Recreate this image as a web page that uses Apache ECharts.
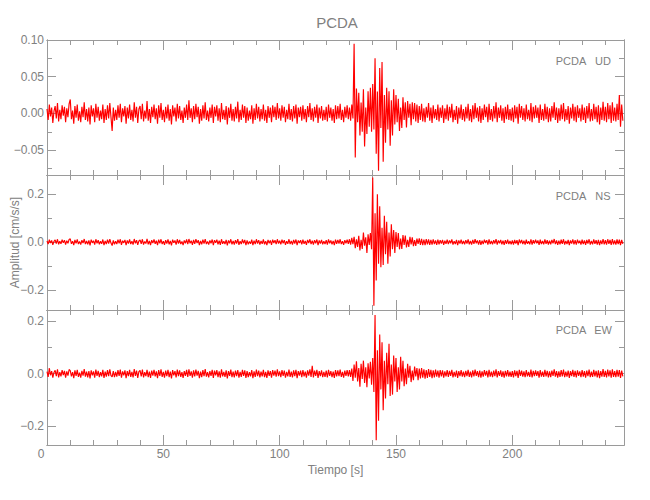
<!DOCTYPE html>
<html><head><meta charset="utf-8">
<script src="https://cdn.jsdelivr.net/npm/echarts@6/dist/echarts.min.js"></script>
<style>html,body{margin:0;padding:0;background:#fff}#c{width:650px;height:500px}</style>
</head><body><div id="c"></div>
<script>
// ---- data ----
const stationName = 'PCDA';
const componentNames = ['UD', 'NS', 'EW'];
const startTime = 0;          // s
const sampleInterval = 0.5;   // s
const valueUnit = 0.001;      // arrays below are in 1e-3 cm/s/s

const udValues = [
6,-9,12,-4,8,-13,3,10,-7,14,-11,5,-8,11,-3,9,-12,7,-5,13,
19,-8,4,-14,10,-6,12,-10,3,-12,9,-5,15,-9,6,-11,8,-15,11,-4,
7,-12,13,-6,9,-10,4,-8,12,-13,6,-9,11,-7,14,-5,-24,8,-10,5,
-9,11,-6,13,-12,7,-4,10,-14,8,-7,12,-9,5,-11,15,-6,9,-13,6,
10,-8,13,-11,4,-7,17,-10,6,-13,9,-5,12,-8,7,-14,11,-6,14,-9,
5,-12,9,-7,12,-10,6,-15,11,-4,8,-11,13,-7,10,-9,4,-13,8,-6,
12,-9,18,-6,7,-12,10,-8,13,-5,9,-14,6,-10,11,-7,15,-9,4,-11,
8,-6,12,-13,9,-4,11,-10,7,-12,14,-8,5,-9,10,-15,8,-6,13,-10,
6,-11,9,-7,16,-12,5,-9,12,-6,10,-13,8,-10,4,-8,11,-14,7,-9,
13,-7,9,-11,6,-8,12,-10,5,-13,10,-6,8,-12,11,-5,9,-9,14,-7,
7,-10,11,-6,9,-12,5,-8,13,-9,6,-11,10,-7,12,-14,8,-5,9,-10,
11,-8,6,-12,10,-5,14,-9,7,-11,9,-6,12,-13,8,-7,10,-10,5,-9,
9,-11,12,-6,8,-10,6,-13,11,-8,10,-7,13,-9,5,-12,9,-6,11,-8,
8,-10,12,-7,95,-60,34,-12,28,-30,15,-25,33,-45,8,-28,30,-18,35,-25,
40,-22,75,-55,30,-78,62,-20,70,-66,25,-40,35,-22,30,-44,18,-30,33,-15,
25,-12,20,-24,8,-20,22,-9,15,-19,17,-6,13,-16,15,-8,14,-11,12,-13,
10,-9,13,-11,7,-12,9,-6,14,-10,8,-13,11,-7,6,-9,12,-11,8,-6,
11,-13,7,-8,12,-10,9,-6,13,-12,5,-9,10,-14,8,-7,12,-9,6,-11,
9,-7,13,-10,6,-12,11,-8,14,-6,8,-11,10,-13,7,-9,12,-5,9,-12,
13,-9,6,-11,10,-7,15,-12,8,-6,11,-10,7,-13,9,-8,12,-9,6,-10,
8,-12,11,-7,9,-14,13,-6,10,-9,7,-11,12,-8,5,-10,14,-12,9,-7,
11,-6,8,-13,12,-9,6,-10,13,-8,9,-12,7,-11,10,-6,15,-9,8,-13,
7,-10,12,-8,14,-11,6,-9,10,-14,8,-7,13,-10,9,-12,11,-6,7,-11,
12,-9,8,-13,10,-7,14,-11,6,-10,13,-8,9,-12,11,-15,8,-9,16,-10,
9,-12,14,-8,11,-13,15,-10,8,-11,13,-9,25,-18,12,-10
];

const nsValues = [
5,-8,10,-4,7,-11,3,9,-6,12,-9,4,-7,10,-3,8,-10,6,-5,11,
14,-7,4,-12,9,-5,11,-8,3,-10,8,-4,13,-8,5,-9,7,-13,10,-3,
6,-10,12,-5,8,-9,4,-7,11,-12,5,-8,10,-6,12,-4,-14,7,-9,4,
-8,10,-5,12,-11,6,-3,9,-12,7,-6,11,-8,4,-10,13,-5,8,-11,5,
9,-7,12,-10,3,-6,14,-9,5,-12,8,-4,11,-7,6,-12,10,-5,12,-8,
4,-11,8,-6,11,-9,5,-13,10,-3,7,-10,12,-6,9,-8,3,-12,7,-5,
11,-8,13,-5,6,-11,9,-7,12,-4,8,-12,5,-9,10,-6,13,-8,3,-10,
7,-5,11,-12,8,-3,10,-9,6,-11,12,-7,4,-8,9,-13,7,-5,12,-9,
5,-10,8,-6,13,-11,4,-8,11,-5,9,-12,7,-9,3,-7,10,-12,6,-8,
12,-6,8,-10,5,-7,11,-9,4,-12,9,-5,7,-11,10,-4,8,-8,12,-6,
6,-9,10,-5,8,-11,4,-7,12,-8,5,-10,9,-6,11,-12,7,-4,8,-9,
10,-7,5,-11,9,-4,12,-8,6,-10,8,-5,11,-12,7,-6,9,-9,4,-8,
8,-10,11,-5,7,-9,5,-12,10,-7,9,-6,12,-8,4,-11,8,-5,10,-7,
12,-10,18,-8,22,-25,12,-20,26,-35,10,-28,40,-15,20,-45,33,-12,38,-30,
270,-265,120,-160,200,-90,150,-105,60,-95,110,-50,85,-90,40,-60,75,-30,50,-45,
42,-20,38,-30,15,-28,30,-12,27,-22,10,-20,22,-9,20,-17,8,-16,15,-7,
16,-12,14,-13,11,-12,13,-9,12,-11,9,-10,12,-8,7,-11,10,-9,8,-6,
9,-11,6,-7,10,-8,7,-5,11,-10,4,-8,9,-12,7,-6,10,-8,5,-9,
8,-6,11,-9,5,-10,9,-7,12,-5,7,-10,8,-11,6,-8,10,-4,8,-10,
11,-8,5,-9,8,-6,13,-10,7,-5,9,-9,6,-11,8,-7,10,-8,5,-9,
7,-10,9,-6,8,-12,11,-5,9,-8,6,-10,10,-7,4,-9,12,-10,8,-6,
10,-5,7,-11,10,-8,5,-9,11,-7,8,-10,6,-9,9,-5,13,-8,7,-11,
6,-9,10,-7,12,-10,5,-8,9,-12,7,-6,11,-9,8,-10,10,-5,6,-10,
10,-8,7,-11,9,-6,12,-10,5,-9,11,-7,8,-10,9,-12,7,-8,13,-9,
8,-10,12,-7,9,-11,13,-9,7,-10,11,-8,10,-12,9,-7
];

const ewValues = [
8,-12,22,-6,10,-15,5,13,-9,17,-14,6,-10,14,-5,11,-15,9,-7,16,
12,-10,6,-17,13,-8,15,-12,4,-15,11,-7,18,-11,8,-14,10,-18,13,-6,
9,-15,16,-8,11,-13,6,-10,15,-16,8,-11,14,-9,17,-7,-12,10,-13,7,
-11,14,-8,16,-15,9,-6,13,-17,10,-9,15,-12,7,-14,18,-8,12,-16,8,
13,-10,16,-14,6,-9,15,-13,8,-16,12,-7,15,-10,9,-17,14,-8,17,-12,
7,-15,12,-9,15,-13,8,-18,14,-6,10,-14,16,-9,13,-12,6,-16,10,-8,
15,-12,17,-8,9,-15,13,-10,16,-7,11,-17,8,-13,14,-9,18,-11,6,-14,
10,-8,15,-16,12,-6,14,-13,9,-15,17,-10,7,-12,13,-18,10,-8,16,-13,
8,-14,12,-9,14,-15,7,-12,15,-8,13,-16,10,-13,6,-10,14,-17,9,-12,
16,-9,12,-14,8,-10,15,-13,7,-16,13,-8,10,-15,14,-7,12,-11,17,-9,
9,-13,14,-8,12,-15,7,-10,16,-12,8,-14,13,-9,15,-17,10,-7,12,-13,
14,-10,8,-15,13,-7,17,-12,30,-14,12,-8,15,-16,10,-9,13,-13,7,-12,
12,-14,15,-8,10,-13,8,-16,14,-10,13,-9,16,-12,7,-15,12,-8,14,-10,
14,-12,20,-28,35,-15,48,-30,22,-50,38,-20,50,-35,25,-52,40,-18,46,-42,
60,-70,225,-255,90,-180,150,-60,120,-140,50,-95,80,-40,115,-85,35,-80,70,-30,
60,-70,25,-60,65,-30,50,-48,20,-40,38,-15,30,-32,12,-25,27,-10,22,-25,
20,-18,22,-15,17,-19,14,-16,18,-12,15,-17,13,-14,16,-11,12,-15,14,-10,
13,-15,9,-10,14,-12,11,-8,15,-14,7,-11,12,-16,10,-9,14,-11,8,-13,
11,-9,15,-12,8,-14,13,-10,16,-8,10,-13,12,-15,9,-11,14,-7,11,-14,
15,-11,8,-13,12,-9,17,-14,10,-8,13,-12,9,-15,11,-10,14,-11,8,-12,
10,-14,13,-9,11,-16,15,-8,12,-11,9,-13,14,-10,7,-12,16,-14,11,-9,
13,-8,10,-15,14,-11,8,-12,15,-10,11,-14,9,-13,12,-8,17,-11,10,-15,
9,-12,14,-10,16,-13,8,-11,12,-16,10,-9,15,-12,11,-14,13,-8,9,-13,
14,-11,10,-15,12,-9,16,-13,8,-12,15,-10,11,-14,13,-17,10,-11,18,-12,
11,-14,16,-10,13,-15,17,-12,10,-13,15,-11,14,-16,12,-10
];

const timeRange = [0, 248];
const timeTicksMajor = [0, 50, 100, 150, 200];
const timeTicksMinor = [0,10,20,30,40,50,60,70,80,90,100,110,120,130,140,150,160,170,180,190,200,210,220,230,240];
const yRanges = [[-0.0839, 0.1], [-0.283, 0.28], [-0.273, 0.244]];
const yTicksMajor = [[-0.05, 0, 0.05, 0.1], [-0.2, 0, 0.2], [-0.2, 0, 0.2]];
const yTicksMinor = [[-0.075, -0.05, -0.025, 0, 0.025, 0.05, 0.075, 0.1], [-0.2, -0.1, 0, 0.1, 0.2], [-0.2, -0.1, 0, 0.1, 0.2]];
const yDecimals = [2, 1, 1];

// ---- chart ----
const FONT = "'Liberation Sans',Arial,sans-serif";
const AXIS_COLOR = '#9a9a9a';
const TEXT_COLOR = '#808080';
const traces = [udValues, nsValues, ewValues];

function toSeriesData(arr) {
  return arr.map((v, i) => [startTime + i * sampleInterval, v * valueUnit]);
}
function fmtY(v, p) {
  return (v < -1e-9 ? '\u2212' : '') + Math.abs(v).toFixed(yDecimals[p]);
}
function xAx(p, pos, ticks, len, label) {
  const o = {
    type: 'value', gridIndex: p, position: pos, min: timeRange[0], max: timeRange[1],
    axisLine: {show: true, onZero: false, lineStyle: {color: AXIS_COLOR, width: 1}},
    axisTick: {show: true, inside: true, length: len, customValues: ticks, lineStyle: {color: AXIS_COLOR, width: 1}},
    axisLabel: {show: false},
    splitLine: {show: false}, axisPointer: {show: false}
  };
  if (label) {
    o.axisLabel = {
      show: true, customValues: timeTicksMajor, margin: 3, color: TEXT_COLOR, fontFamily: FONT, fontSize: 12,
      formatter: v => v === 0 ? '{z|0}' : String(v),
      rich: {z: {padding: [0, 12, 0, 0], color: TEXT_COLOR, fontFamily: FONT, fontSize: 12}}
    };
    o.name = 'Tiempo [s]';
    o.nameLocation = 'middle';
    o.nameGap = 19;
    o.nameMoveOverlap = false;
    o.nameTextStyle = {color: TEXT_COLOR, fontFamily: FONT, fontSize: 12};
  }
  return o;
}
function yAx(p, pos, ticks, len, label) {
  const o = {
    type: 'value', gridIndex: p, position: pos, min: yRanges[p][0], max: yRanges[p][1],
    axisLine: {show: true, onZero: false, lineStyle: {color: AXIS_COLOR, width: 1}},
    axisTick: {show: true, inside: true, length: len, customValues: ticks, lineStyle: {color: AXIS_COLOR, width: 1}},
    axisLabel: {show: false},
    splitLine: {show: false}, axisPointer: {show: false}
  };
  if (label) {
    o.axisLabel = {show: true, customValues: yTicksMajor[p], margin: 3, color: TEXT_COLOR, fontFamily: FONT, fontSize: 12,
      formatter: v => fmtY(v, p)};
  }
  if (label && p === 1) {
    o.name = 'Amplitud [cm/s/s]';
    o.nameLocation = 'middle';
    o.nameGap = 26;
    o.nameMoveOverlap = false;
    o.nameTextStyle = {color: TEXT_COLOR, fontFamily: FONT, fontSize: 12};
  }
  return o;
}

const grid = [], xAxis = [], yAxis = [], series = [];
[0, 1, 2].forEach(p => {
  grid.push({left: 47, right: 26, top: 40 + 135 * p, height: 135, containLabel: false, outerBoundsMode: 'none'});
  xAxis.push(xAx(p, 'bottom', timeTicksMajor, 10, p === 2));
  xAxis.push(xAx(p, 'bottom', timeTicksMinor, 5, false));
  xAxis.push(xAx(p, 'top', timeTicksMajor, 10, false));
  xAxis.push(xAx(p, 'top', timeTicksMinor, 5, false));
  yAxis.push(yAx(p, 'left', yTicksMajor[p], 9, true));
  yAxis.push(yAx(p, 'left', yTicksMinor[p], 5, false));
  yAxis.push(yAx(p, 'right', yTicksMajor[p], 9, false));
  yAxis.push(yAx(p, 'right', yTicksMinor[p], 5, false));
  series.push({
    type: 'line', name: stationName + ' ' + componentNames[p],
    xAxisIndex: p * 4, yAxisIndex: p * 4,
    data: toSeriesData(traces[p]),
    symbol: 'none', showSymbol: false, clip: false, silent: true,
    lineStyle: {color: '#ff0000', width: 1.15}, z: 1
  });
});

const labelY = [61, 196, 330];
const graphic = [
  {type: 'text', x: 337, y: 22, style: {text: stationName, fill: TEXT_COLOR, fontFamily: FONT, fontSize: 15, align: 'center', verticalAlign: 'middle'}}
];
labelY.forEach((y, p) => {
  graphic.push({type: 'text', x: 571, y: y, style: {text: stationName, fill: TEXT_COLOR, fontFamily: FONT, fontSize: 11, align: 'center', verticalAlign: 'middle'}});
  graphic.push({type: 'text', x: 603, y: y, style: {text: componentNames[p], fill: TEXT_COLOR, fontFamily: FONT, fontSize: 11, align: 'center', verticalAlign: 'middle'}});
});
const lens = traces.map(t => t.length);
if (lens.some(l => l !== 496)) {
  graphic.push({type: 'text', x: 200, y: 490, style: {text: 'LEN ' + lens.join(','), fill: '#000', fontSize: 10}});
}

const chart = echarts.init(document.getElementById('c'), null, {renderer: 'svg'});
chart.setOption({
  animation: false,
  backgroundColor: '#ffffff',
  grid, xAxis, yAxis, series, graphic,
  tooltip: {show: false}
});
</script>
</body></html>
